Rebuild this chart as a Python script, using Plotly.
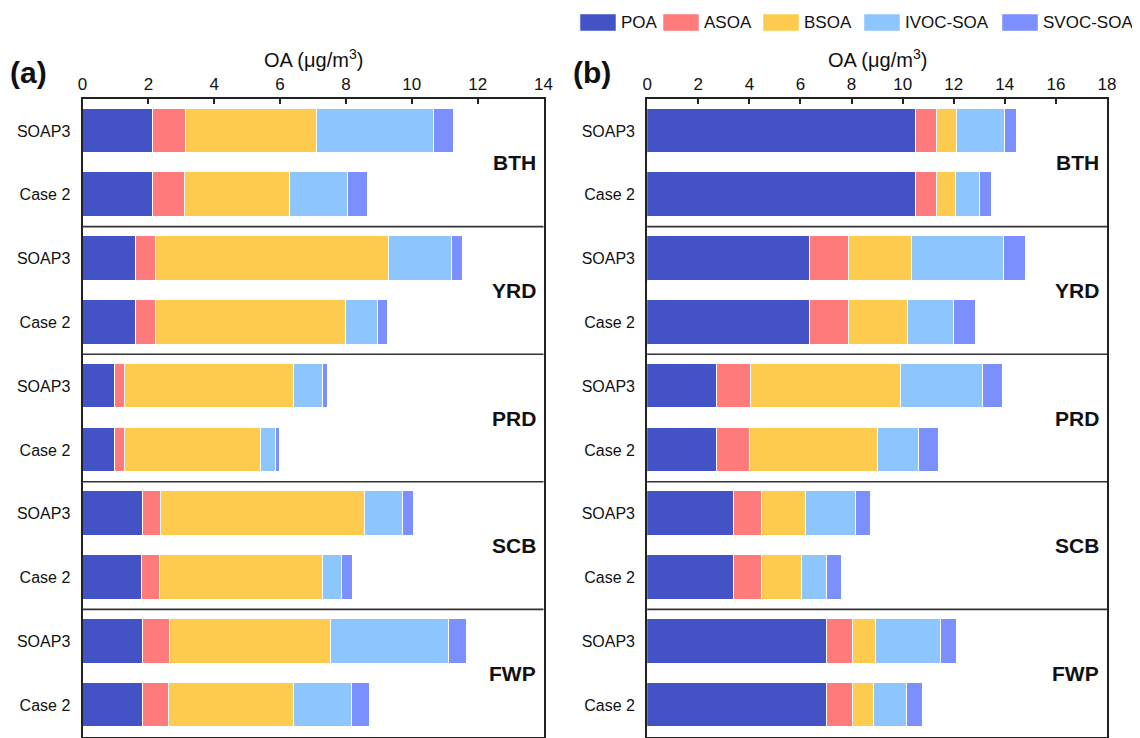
import plotly.graph_objects as go

W, H = 1140, 738
OFF = 8  # page body margin offset

regions = ["BTH", "YRD", "PRD", "SCB", "FWP"]
cases = ["SOAP3", "Case 2"]
components = ["POA", "ASOA", "BSOA", "IVOC-SOA", "SVOC-SOA"]
colors = ["#4353C6", "#FF7A7A", "#FFCB4F", "#8DC5FF", "#7B8FFF"]

# order of rows: BTH-SOAP3, BTH-Case 2, YRD-SOAP3, YRD-Case 2, ... FWP-Case 2
# panel (a)
a_POA = [2.13, 2.13, 1.62, 1.60, 0.97, 0.97, 1.81, 1.79, 1.83, 1.81]
a_ASOA = [0.99, 0.96, 0.61, 0.62, 0.32, 0.32, 0.55, 0.54, 0.81, 0.81]
a_BSOA = [3.98, 3.20, 7.05, 5.78, 5.13, 4.11, 6.19, 4.97, 4.90, 3.79]
a_IVOC = [3.56, 1.77, 1.94, 0.95, 0.88, 0.45, 1.16, 0.57, 3.56, 1.75]
a_SVOC = [0.61, 0.58, 0.32, 0.31, 0.14, 0.13, 0.33, 0.32, 0.56, 0.55]

# panel (b)
b_POA = [10.55, 10.55, 6.40, 6.40, 2.73, 2.73, 3.42, 3.42, 7.04, 7.04]
b_ASOA = [0.82, 0.82, 1.49, 1.49, 1.33, 1.31, 1.07, 1.07, 1.01, 1.01]
b_BSOA = [0.78, 0.74, 2.50, 2.31, 5.90, 5.02, 1.75, 1.58, 0.90, 0.82]
b_IVOC = [1.85, 0.94, 3.57, 1.80, 3.18, 1.58, 1.96, 0.97, 2.55, 1.29]
b_SVOC = [0.47, 0.47, 0.87, 0.86, 0.79, 0.81, 0.57, 0.61, 0.63, 0.63]

x_ticks_a = [0, 2, 4, 6, 8, 10, 12, 14]
x_ticks_b = [0, 2, 4, 6, 8, 10, 12, 14, 16, 18]

a_series = [a_POA, a_ASOA, a_BSOA, a_IVOC, a_SVOC]
b_series = [b_POA, b_ASOA, b_BSOA, b_IVOC, b_SVOC]

rows = [(r, c) for r in regions for c in cases]
ypos = list(range(len(rows)))
ylabels = [c for (r, c) in rows]

FONT = "Liberation Sans, Arial, sans-serif"


def px(x):
    return (x - OFF) / W


def py(y):
    return 1 - (y - OFF) / H


fig = go.Figure()
for name, col, va, vb in zip(components, colors, a_series, b_series):
    fig.add_trace(go.Bar(y=ypos, x=va, orientation="h", name=name,
                         marker=dict(color=col, line=dict(color="white", width=1)),
                         width=0.70, xaxis="x", yaxis="y", showlegend=False))
    fig.add_trace(go.Bar(y=ypos, x=vb, orientation="h", name=name,
                         marker=dict(color=col, line=dict(color="white", width=1)),
                         width=0.70, xaxis="x2", yaxis="y2", showlegend=False))

ydom = [py(737), py(99)]
xdom_a = [px(82.5), px(543.5)]
xdom_b = [px(647.2), px(1107)]

common_x = dict(side="top", dtick=2, ticks="inside", ticklen=5, tickwidth=1.5,
                tickcolor="#222", showgrid=False, zeroline=False, showline=True,
                mirror=True, linecolor="#222", linewidth=2, automargin=False,
                tickfont=dict(family=FONT, size=17, color="#111"),
                ticklabelstandoff=0)
common_y = dict(range=[9.5, -0.5], tickvals=ypos, ticktext=ylabels, ticks="",
                showgrid=False, zeroline=False, showline=True, mirror=True,
                linecolor="#222", linewidth=2, domain=ydom, automargin=False,
                tickfont=dict(family=FONT, size=16, color="#111"),
                ticklabelstandoff=7)

fig.update_layout(
    width=W, height=H, barmode="stack", bargap=0,
    margin=dict(l=0, r=0, t=0, b=0, autoexpand=False),
    paper_bgcolor="white", plot_bgcolor="white",
    showlegend=False,
    xaxis=dict(domain=xdom_a, range=[0, 14], tickvals=x_ticks_a, anchor="y", **common_x),
    yaxis=dict(anchor="x", **common_y),
    xaxis2=dict(domain=xdom_b, range=[0, 18], tickvals=x_ticks_b, anchor="y2", **common_x),
    yaxis2=dict(anchor="x2", **common_y),
)

shapes = []
annotations = []
# group separators
for xr, yr in [("x domain", "y"), ("x2 domain", "y2")]:
    for k in range(1, len(regions)):
        yy = 2 * k - 0.5
        shapes.append(dict(type="line", xref=xr, yref=yr, x0=0, x1=1, y0=yy, y1=yy,
                           line=dict(color="#333", width=1.6)))
    for i, r in enumerate(regions):
        annotations.append(dict(xref=xr, yref=yr, x=0.988, y=2 * i + 0.5, text="<b>%s</b>" % r,
                                showarrow=False, xanchor="right", yanchor="middle",
                                font=dict(family=FONT, size=21, color="#111")))

# axis titles and panel labels
for cx, lbl_x, lbl in [((82.5 + 543.5) / 2, 8, "(a)"), ((647.2 + 1107) / 2, 571, "(b)")]:
    annotations.append(dict(xref="paper", yref="paper", x=px(cx), y=py(58),
                            text="OA (μg/m<sup>3</sup>)", showarrow=False,
                            xanchor="center", yanchor="middle",
                            font=dict(family=FONT, size=20, color="#111")))
    annotations.append(dict(xref="paper", yref="paper", x=px(lbl_x), y=py(73),
                            text="<b>%s</b>" % lbl, showarrow=False,
                            xanchor="left", yanchor="middle",
                            font=dict(family=FONT, size=30, color="#111")))

# custom legend
leg_x = [580, 663, 763, 864, 1002]
for name, col, lx in zip(components, colors, leg_x):
    shapes.append(dict(type="rect", xref="paper", yref="paper",
                       x0=px(lx), x1=px(lx + 36), y0=py(31), y1=py(14),
                       fillcolor=col, line=dict(color="white", width=0.5)))
    annotations.append(dict(xref="paper", yref="paper", x=px(lx + 39), y=py(22.5),
                            text=name, showarrow=False, xanchor="left", yanchor="middle",
                            font=dict(family=FONT, size=17, color="#111")))

fig.update_layout(shapes=shapes, annotations=annotations)
fig.write_html("out.html")
